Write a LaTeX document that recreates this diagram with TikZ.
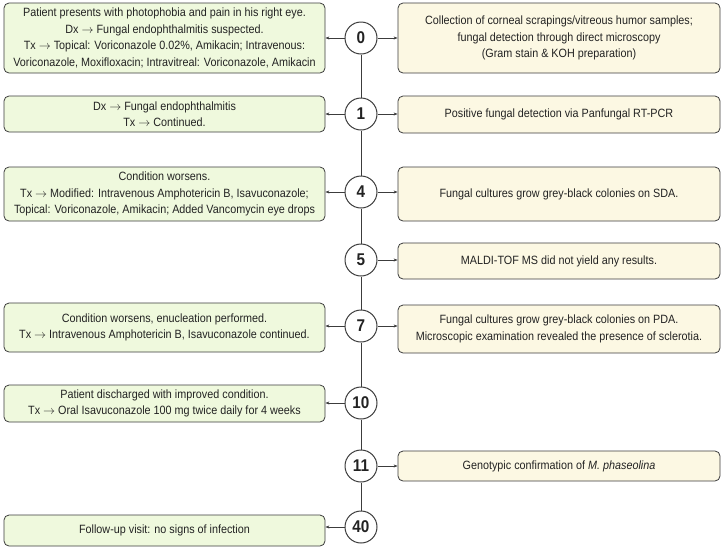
\documentclass[tikz,border=0pt]{standalone}
\usepackage{fontspec}
\setmainfont{Liberation Sans}[FakeStretch=0.9]
\usepackage{xcolor}
\usetikzlibrary{arrows.meta}
\definecolor{edge}{HTML}{3C3C3C}
\definecolor{ink}{HTML}{222222}
\definecolor{clinfill}{HTML}{EFF9DD}
\definecolor{labfill}{HTML}{FCF8E3}
\begin{document}
\begin{tikzpicture}[x=1pt,y=1pt,
    day/.style={draw=edge,line width=1pt,circle,fill=white,text=ink,minimum size=32pt,inner sep=0,font=\fontsize{17}{17}\selectfont\bfseries},
    clinbox/.style={draw=edge,line width=0.8pt,fill=clinfill,text=ink,rounded corners=5pt,minimum width=321pt,align=center,inner sep=2pt,font=\fontsize{12}{16.5}\selectfont},
    labbox/.style={clinbox,fill=labfill,minimum width=322pt},
    tip/.style={draw=edge,line width=0.8pt,-{Stealth[length=4pt,width=3pt]}}]
    \useasboundingbox (0,0) rectangle (721,-547);
    \node(d0)[day] at (361,-38) {0};
    \node(d1)[day] at (361,-114) {1};
    \node(d4)[day] at (361,-192) {4};
    \node(d5)[day] at (361,-260) {5};
    \node(d7)[day] at (361,-326) {7};
    \node(d10)[day] at (361,-403) {10};
    \node(d11)[day] at (361,-466) {11};
    \node(d40)[day] at (361,-527) {40};

    \node(c0)[clinbox,minimum height=70pt] at (164.5,-38) {Patient presents with photophobia and pain in his right eye.\\Dx $\to$ Fungal endophthalmitis suspected.\\Tx $\to$ Topical: Voriconazole 0.02\%, Amikacin; Intravenous:\\Voriconazole, Moxifloxacin; Intravitreal: Voriconazole, Amikacin};
    \node(c1)[clinbox,minimum height=36pt] at (164.5,-114) {Dx $\to$ Fungal endophthalmitis\\Tx $\to$ Continued.};
    \node(c4)[clinbox,minimum height=54pt] at (164.5,-194) {Condition worsens.\\Tx $\to$ Modified: Intravenous Amphotericin B, Isavuconazole;\\Topical: Voriconazole, Amikacin; Added Vancomycin eye drops};
    \node(c7)[clinbox,minimum height=49pt] at (164.5,-327.5) {Condition worsens, enucleation performed.\\Tx $\to$ Intravenous Amphotericin B, Isavuconazole continued.};
    \node(c10)[clinbox,minimum height=37pt] at (164.5,-403.5) {Patient discharged with improved condition.\\Tx $\to$ Oral Isavuconazole 100 mg twice daily for 4 weeks};
    \node(c40)[clinbox,minimum height=31pt] at (164.5,-530.5) {Follow-up visit: no signs of infection};

    \node(l0)[labbox,minimum height=70pt] at (559,-38) {Collection of corneal scrapings/vitreous humor samples;\\fungal detection through direct microscopy\\(Gram stain \& KOH preparation)};
    \node(l1)[labbox,minimum height=37pt] at (559,-114.5) {Positive fungal detection via Panfungal RT-PCR};
    \node(l4)[labbox,minimum height=54pt] at (559,-194) {Fungal cultures grow grey-black colonies on SDA.};
    \node(l5)[labbox,minimum height=36pt] at (559,-261) {MALDI-TOF MS did not yield any results.};
    \node(l7)[labbox,minimum height=48pt] at (559,-329) {Fungal cultures grow grey-black colonies on PDA.\\Microscopic examination revealed the presence of sclerotia.};
    \node(l11)[labbox,minimum height=30pt] at (559,-466) {Genotypic confirmation of \textit{M. phaseolina}};

    \foreach \a/\b in {d0/d1,d1/d4,d4/d5,d5/d7,d7/d10,d10/d11,d11/d40}
        \draw[draw=edge,line width=0.8pt] (\a) -- (\b);
    \foreach \d/\c in {d0/c0,d1/c1,d4/c4,d7/c7,d10/c10,d40/c40}
        \draw[tip] (\d) -- (\d -| \c.east);
    \foreach \d/\l in {d0/l0,d1/l1,d4/l4,d5/l5,d7/l7,d11/l11}
        \draw[tip] (\d) -- (\d -| \l.west);
\end{tikzpicture}
\end{document}
